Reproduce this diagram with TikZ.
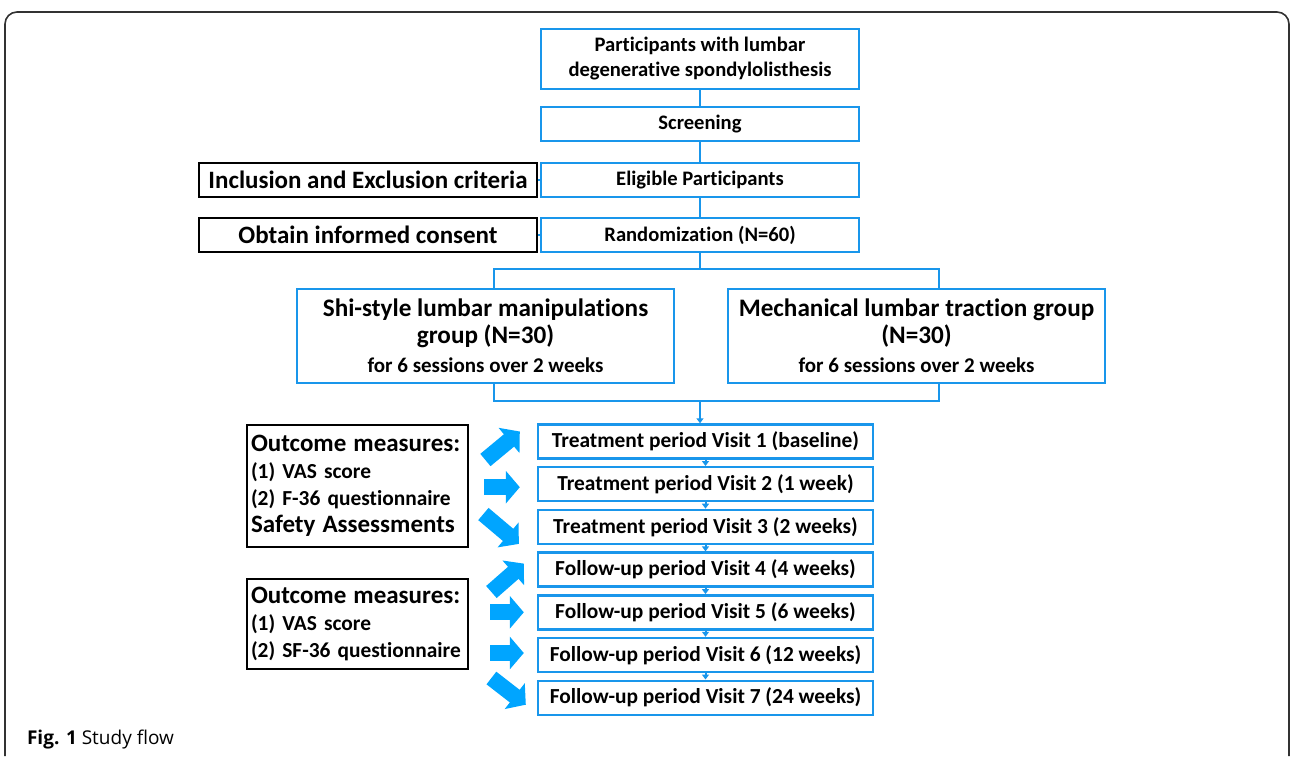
\documentclass[tikz,border=0pt]{standalone}
\usepackage{fontspec}
\setmainfont{Carlito}[RawFeature=-liga]
\newfontfamily\capfont{Open Sans}
\usetikzlibrary{arrows.meta,calc}
\definecolor{boxblue}{RGB}{25,150,235}
\definecolor{arrowblue}{RGB}{0,165,255}
\definecolor{framegray}{RGB}{50,50,50}
\tikzset{
  bluebox/.style={draw=boxblue, line width=1.2pt, fill=white, inner sep=0pt,
    minimum height=17pt, align=center, font=\fontsize{10.3}{12.5}\selectfont\bfseries},
  blackbox/.style={draw=black, line width=1.4pt, fill=white, inner sep=0pt,
    minimum width=169pt, minimum height=17pt, font=\fontsize{12.5}{14}\selectfont\bfseries},
  groupbox/.style={bluebox, minimum width=188.5pt, minimum height=47pt,
    font=\fontsize{12.6}{13.5}\selectfont\bfseries},
  visitbox/.style={bluebox, minimum width=167.5pt, font=\fontsize{10.7}{12}\selectfont\bfseries},
  outbox/.style={draw=black, line width=1.4pt, fill=white, inner sep=2pt,
    text width=106.5pt, align=left, font=\fontsize{10.7}{13.5}\selectfont\bfseries},
  link/.style={draw=boxblue, line width=1pt},
  tip/.style={link, -{Triangle[length=2.5pt,width=3.5pt]}},
  bigarrow/.style={draw=arrowblue, line width=8pt, -{Triangle[length=7pt,width=16pt]}},
}
\newcommand{\bighead}[1]{{\fontsize{12.5}{14}\selectfont #1}}
\newcommand{\subline}[1]{{\fontsize{10.5}{12}\selectfont #1}}
\begin{document}
\begin{tikzpicture}[x=0.5pt,y=-0.5pt]
  \useasboundingbox (0,0) rectangle (1292,756);
  \draw[framegray, line width=0.8pt, rounded corners=6pt] (5,756) -- (5,12) -- (1289,12) -- (1289,756);

  % main column
  \node[bluebox, minimum width=159pt, minimum height=30pt] (part) at (700,59)
    {Participants with lumbar\\degenerative spondylolisthesis};
  \node[bluebox, minimum width=159pt] (scr) at (700,124) {Screening};
  \node[bluebox, minimum width=159pt] (elig) at (700,180) {Eligible Participants};
  \node[bluebox, minimum width=159pt] (rand) at (700,235) {Randomization (N=60)};
  \node[blackbox] (incl) at (368,180) {Inclusion and Exclusion criteria};
  \node[blackbox] (cons) at (368,235) {Obtain informed consent};
  \draw[link] (part) -- (scr);
  \draw[link] (scr) -- (elig);
  \draw[link] (elig) -- (rand);
  \draw[link] (incl) -- (elig);
  \draw[link] (cons) -- (rand);

  % groups
  \node[groupbox] (shi) at (485.5,336)
    {Shi-style lumbar manipulations\\group (N=30)\\[1pt]\subline{for 6 sessions over 2 weeks}};
  \node[groupbox] (mech) at (916.5,336)
    {Mechanical lumbar traction group\\(N=30)\\[1pt]\subline{for 6 sessions over 2 weeks}};
  \coordinate (splitL) at (494,269);
  \coordinate (splitR) at (939,269);
  \coordinate (joinL) at (494,401);
  \coordinate (joinR) at (939,401);
  \draw[link] (rand.south) -- (rand.south |- splitL);
  \draw[link] (splitL |- shi.north) -- (splitL) -- (splitR) -- (splitR |- mech.north);
  \draw[link] (joinL |- shi.south) -- (joinL) -- (joinR) -- (joinR |- mech.south);

  % visits
  \node[visitbox] (v1) at (705.5,441.5) {Treatment period Visit 1 (baseline)};
  \node[visitbox] (v2) at (705.5,484.2) {Treatment period Visit 2 (1 week)};
  \node[visitbox] (v3) at (705.5,526.9) {Treatment period Visit 3 (2 weeks)};
  \node[visitbox] (v4) at (705.5,569.6) {Follow-up period Visit 4 (4 weeks)};
  \node[visitbox] (v5) at (705.5,612.3) {Follow-up period Visit 5 (6 weeks)};
  \node[visitbox] (v6) at (705.5,655) {Follow-up period Visit 6 (12 weeks)};
  \node[visitbox] (v7) at (705.5,697.7) {Follow-up period Visit 7 (24 weeks)};
  \draw[tip] (rand.south |- joinL) -- (rand.south |- v1.north);
  \foreach \i/\j in {1/2,2/3,3/4,4/5,5/6,6/7}
    \draw[tip] (v\i.south) -- (v\j.north);

  % outcome measures
  \node[outbox, minimum height=61pt] (out1) at (357.5,486)
    {\bighead{Outcome measures:}\\(1) VAS score\\(2) F-36 questionnaire\\\bighead{Safety Assessments}};
  \node[outbox, minimum height=45pt] (out2) at (357.5,624)
    {\bighead{Outcome measures:}\\(1) VAS score\\(2) SF-36 questionnaire};

  \draw[bigarrow] ($(out1.east)+(16,-26)$) -- ($(v1.west)+(-17,-10)$);
  \draw[bigarrow] ($(out1.east |- v2.west)+(15,3)$) -- ($(v2.west)+(-17,3)$);
  \draw[bigarrow] ($(out1.east)+(14,28)$) -- ($(v3.west)+(-18,17)$);
  \draw[bigarrow] ($(out2.east)+(22,-32)$) -- ($(v4.west)+(-13,-6)$);
  \draw[bigarrow] ($(out2.east |- v5.west)+(21,0)$) -- ($(v5.west)+(-13,0)$);
  \draw[bigarrow] ($(out2.east |- v6.west)+(21,-2)$) -- ($(v6.west)+(-13,-2)$);
  \draw[bigarrow] ($(out2.east)+(22,54)$) -- ($(v7.west)+(-11,7)$);

  \node[anchor=west, font=\capfont\fontsize{9.5}{11}\selectfont] (cap) at (20,740)
    {\textbf{Fig. 1} Study flow};
\end{tikzpicture}
\end{document}
